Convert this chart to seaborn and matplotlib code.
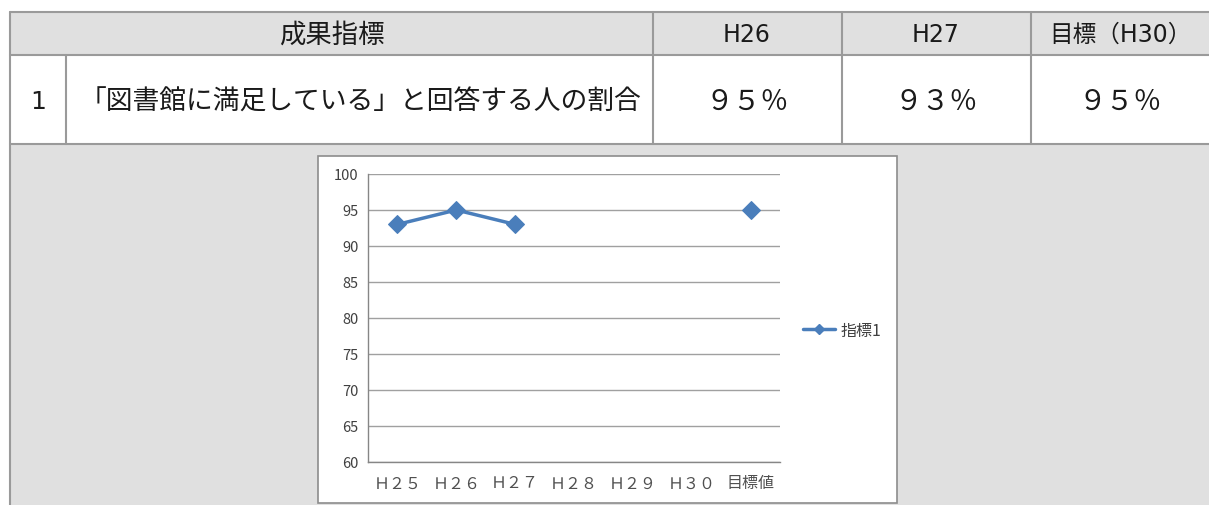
import numpy as np
import pandas as pd
import matplotlib
matplotlib.use("Agg")
import matplotlib.pyplot as plt
from matplotlib.patches import Rectangle
from matplotlib.lines import Line2D
import seaborn as sns

# --- data ---
categories = ['Ｈ２５', 'Ｈ２６', 'Ｈ２７', 'Ｈ２８', 'Ｈ２９', 'Ｈ３０', '目標値']
values = [93, 95, 93, np.nan, np.nan, np.nan, 95]
series_name = '指標1'

header_labels = ['成果指標', 'H26', 'H27', '目標（H30）']
row_no = '1'
row_label = '「図書館に満足している」と回答する人の割合'
row_values = ['９５％', '９３％', '９５％']

yticks = list(range(60, 101, 5))

sns.set_style('white')
plt.rcParams['font.family'] = ['Noto Sans CJK JP', 'DejaVu Sans']

W, H = 1209, 506
fig = plt.figure(figsize=(W / 100, H / 100), dpi=100)

# background axes in pixel coordinates for the table
bg = fig.add_axes([0, 0, 1, 1])
bg.set_xlim(0, W)
bg.set_ylim(H, 0)
bg.axis('off')

fill = '#e0e0e0'
edge = '#9a9a9a'
bg.add_patch(Rectangle((10, 13), W - 10, 43, facecolor=fill, edgecolor='none'))
bg.add_patch(Rectangle((10, 145), W - 10, H - 145, facecolor=fill, edgecolor='none'))

lw = 1.5
for y in [13, 56, 145]:
    bg.plot([10, W], [y, y], color=edge, lw=lw)
bg.plot([10, 10], [13, H], color=edge, lw=lw)
for x in [653, 842, 1031]:
    bg.plot([x, x], [13, 145], color=edge, lw=lw)
bg.plot([66, 66], [56, 145], color=edge, lw=lw)

txt = '#1a1a1a'
latin = ['DejaVu Sans', 'Noto Sans CJK JP']

# header row
col_centers = [331.5, 747, 936, 1120]
bg.text(col_centers[0], 35, header_labels[0], ha='center', va='center',
        fontsize=19, color=txt)
for cx, lab in zip(col_centers[1:], header_labels[1:]):
    bg.text(cx, 35, lab, ha='center', va='center', fontsize=17,
            color=txt, family=latin)

# data row
bg.text(38, 102, row_no, ha='center', va='center', fontsize=18, color=txt,
        family=latin)
bg.text(360, 102, row_label, ha='center', va='center', fontsize=19.3,
        color=txt)
for cx, lab in zip(col_centers[1:], row_values):
    bg.text(cx, 102, lab, ha='center', va='center', fontsize=20, color=txt)

# chart box
bg.add_patch(Rectangle((318, 157), 897 - 318, 504 - 157, facecolor='white',
                       edgecolor='#8c8c8c', lw=1.2))

# --- chart ---
df = pd.DataFrame({'pos': np.arange(len(categories)), 'value': values})
df['segment'] = np.cumsum(np.isnan(df['value'].values))

ax = fig.add_axes([368 / W, (H - 463) / H, 412 / W, 288 / H])
ax.set_facecolor('none')
color = '#4a7ebb'
sns.lineplot(data=df, x='pos', y='value', units='segment', estimator=None,
             marker='D', markersize=9, color=color, markeredgecolor=color,
             linewidth=2.5, legend=False, ax=ax, zorder=3)

ax.set_xlim(-0.5, len(categories) - 0.5)
ax.set_ylim(60, 100)
ax.set_yticks(yticks)
ax.set_yticklabels([str(v) for v in yticks], fontsize=10.5, color='#404040')
ax.set_xticks(np.arange(len(categories) + 1) - 0.5)
ax.set_xticklabels([])
ax.set_xticks(np.arange(len(categories)), minor=True)
ax.set_xticklabels(categories, minor=True, fontsize=11.5, color='#505050')
ax.tick_params(axis='x', which='major', length=5, width=1, color='#868686', direction='out')
ax.tick_params(axis='x', which='minor', length=0, pad=9)
ax.tick_params(axis='y', length=5, width=1, color='#868686', direction='out', pad=2)
ax.grid(axis='y', color='#a0a0a0', lw=1)
ax.grid(axis='x', visible=False)
ax.set_axisbelow(True)
for s in ['top', 'right']:
    ax.spines[s].set_visible(False)
for s in ['left', 'bottom']:
    ax.spines[s].set_color('#868686')
    ax.spines[s].set_linewidth(1)
ax.set_xlabel('')
ax.set_ylabel('')

handle = Line2D([], [], color=color, marker='D', markersize=5.5, lw=2.5)
fig.legend([handle], [series_name], loc='center left',
           bbox_to_anchor=(789 / W, (H - 331) / H), frameon=False,
           fontsize=11.5, handlelength=2.0, handletextpad=0.3,
           labelcolor='#404040')

fig.savefig('out.png', dpi=100)
